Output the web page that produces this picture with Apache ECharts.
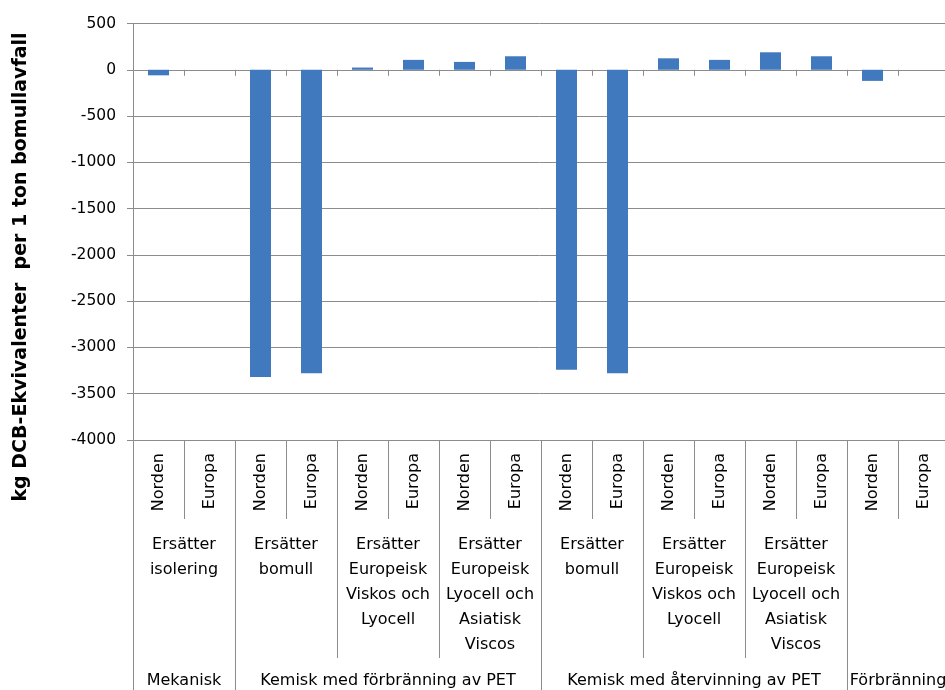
<!DOCTYPE html>
<html>
<head>
<meta charset="utf-8">
<script src="https://cdn.jsdelivr.net/npm/echarts@6/dist/echarts.min.js"></script>
<style>
  html, body { margin: 0; padding: 0; background: #fff; }
  #chart { width: 945px; height: 690px; }
</style>
</head>
<body>
<div id="chart"></div>
<script>
// Region of each bar (innermost label level)
const regions = [
  'Norden', 'Europa', 'Norden', 'Europa', 'Norden', 'Europa', 'Norden', 'Europa',
  'Norden', 'Europa', 'Norden', 'Europa', 'Norden', 'Europa', 'Norden', 'Europa'
];
// What the recycled fibre replaces (one entry per Norden/Europa pair)
const substitutes = [
  'Ersätter\nisolering',
  'Ersätter\nbomull',
  'Ersätter\nEuropeisk\nViskos och\nLyocell',
  'Ersätter\nEuropeisk\nLyocell och\nAsiatisk\nViscos',
  'Ersätter\nbomull',
  'Ersätter\nEuropeisk\nViskos och\nLyocell',
  'Ersätter\nEuropeisk\nLyocell och\nAsiatisk\nViscos',
  ''
];
// Treatment method, written under the middle pair of its span
const methods = [
  'Mekanisk', '', 'Kemisk med förbränning av PET', '', '',
  'Kemisk med återvinning av PET', '', 'Förbränning'
];
// Pair index where each treatment method begins
const methodStarts = [0, 1, 4, 7];
// kg DCB-ekvivalenter per ton bomullsavfall
const values = [
  -60, 0, -3320, -3280, 24, 107, 85, 146,
  -3240, -3280, 124, 107, 189, 146, -120, 0
];
const yMin = -4000, yMax = 500, yStep = 500;

const axisGray = '#8c8c8c';
const labelFont = 'DejaVu Sans';

const chart = echarts.init(document.getElementById('chart'), null, { renderer: 'canvas' });

function labelAxis(data, opts) {
  return Object.assign({
    type: 'category',
    data: data,
    position: 'bottom',
    boundaryGap: true,
    axisLine: { show: false, onZero: false },
    splitLine: { show: false },
    axisPointer: { show: false }
  }, opts);
}

chart.setOption({
  animation: false,
  backgroundColor: '#ffffff',
  grid: {
    left: 133,
    top: 23.5,
    width: 816,
    height: 416.5,
    containLabel: false,
    outerBoundsMode: 'none'
  },
  yAxis: {
    type: 'value',
    min: yMin,
    max: yMax,
    interval: yStep,
    axisLine: { show: true, lineStyle: { color: axisGray, width: 1 } },
    axisTick: { show: true, length: 6, lineStyle: { color: axisGray } },
    axisLabel: {
      color: '#000', fontFamily: labelFont, fontSize: 15.5, margin: 17,
      formatter: function (v) { return String(v); }
    },
    splitLine: { show: true, lineStyle: { color: axisGray, width: 1 } }
  },
  xAxis: [
    // axis line through zero with short boundary ticks
    {
      type: 'category',
      data: regions,
      boundaryGap: true,
      axisLine: { show: true, onZero: true, lineStyle: { color: axisGray } },
      axisTick: { show: true, length: 6, interval: 0, lineStyle: { color: axisGray } },
      axisLabel: { show: false, interval: 0 },
      splitLine: { show: false }
    },
    // Norden / Europa
    labelAxis(regions, {
      axisTick: { show: true, length: 79, interval: 0, lineStyle: { color: axisGray } },
      axisLabel: {
        interval: 0, rotate: 90, margin: 13,
        color: '#000', fontFamily: labelFont, fontSize: 16
      }
    }),
    // substituted product
    labelAxis(substitutes, {
      axisTick: { show: true, length: 218, interval: 0, lineStyle: { color: axisGray } },
      axisLabel: {
        interval: 0, margin: 92, lineHeight: 25, align: 'center',
        color: '#000', fontFamily: labelFont, fontSize: 16
      }
    }),
    // treatment method
    labelAxis(methods, {
      axisTick: {
        show: true, length: 260,
        interval: function (index) { return methodStarts.indexOf(index) >= 0; },
        lineStyle: { color: axisGray }
      },
      axisLabel: {
        interval: 0, margin: 231, lineHeight: 20,
        color: '#000', fontFamily: labelFont, fontSize: 16
      }
    })
  ],
  series: [{
    type: 'bar',
    xAxisIndex: 0,
    data: values,
    barWidth: 21,
    itemStyle: { color: '#4179be' }
  }],
  graphic: [{
    type: 'text',
    x: 21,
    y: 267,
    rotation: Math.PI / 2,
    style: {
      text: 'kg DCB-Ekvivalenter  per 1 ton bomullavfall',
      font: 'bold 19px "DejaVu Sans"',
      fill: '#000',
      align: 'center',
      verticalAlign: 'middle'
    }
  }]
});
</script>
</body>
</html>
